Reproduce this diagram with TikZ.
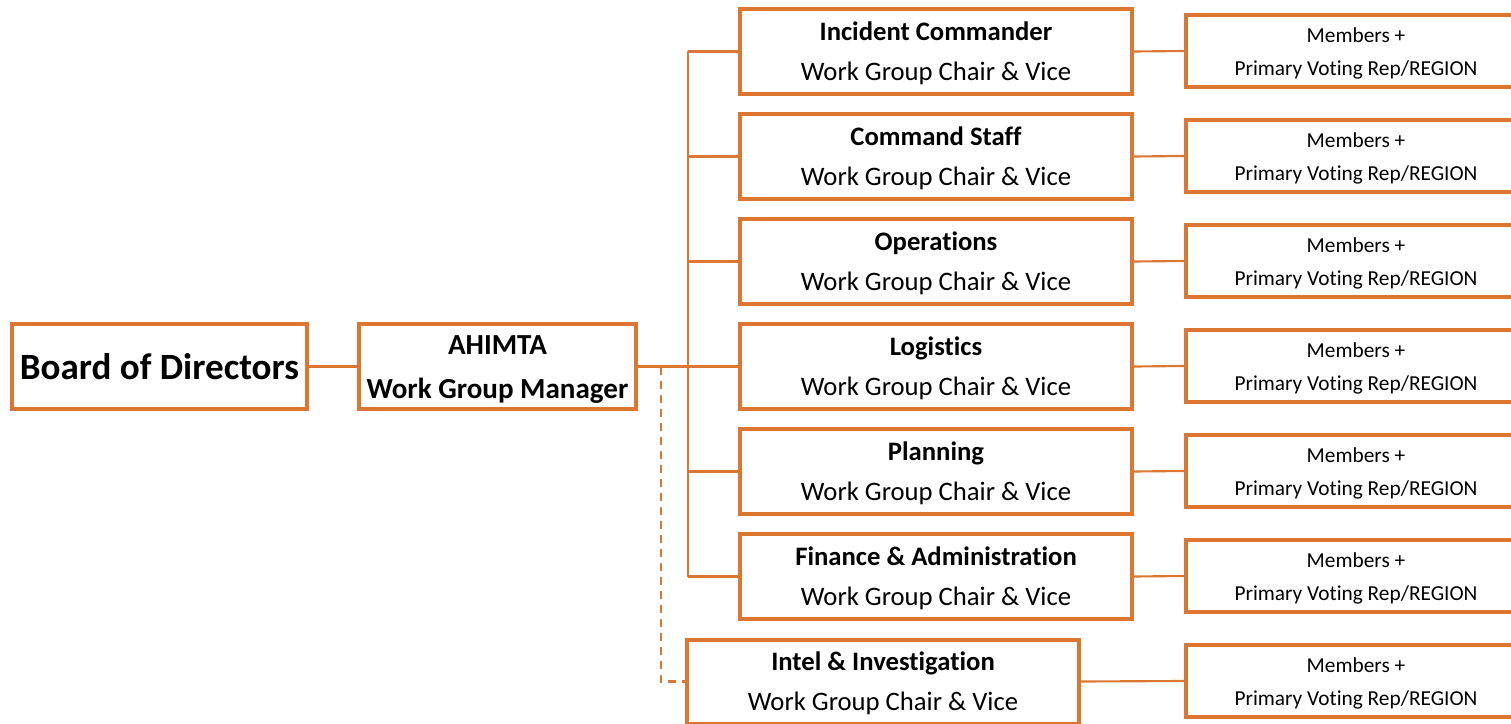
\documentclass[tikz,border=0pt]{standalone}
\usepackage{fontspec}
\setmainfont{Carlito}[Ligatures={NoCommon}]
\definecolor{org}{RGB}{221,118,48}
\begin{document}
\begin{tikzpicture}[x=0.75pt,y=-0.75pt,
  box/.style={draw=org, line width=3pt, fill=white, inner sep=0pt, align=center},
  midbox/.style={box, minimum width=0.75*392pt, minimum height=0.75*85pt,
    label={[font=\fontsize{20}{30}\selectfont, align=center, yshift=-1.5pt]center:#1}},
  membox/.style={box, minimum width=0.75*340pt, minimum height=0.75*72pt,
    label={[font=\fontsize{16}{24.75}\selectfont, align=center, yshift=-1.8pt]center:#1}},
  conn/.style={draw=org, line width=1.6pt},
  dconn/.style={conn, dash pattern=on 6pt off 4.5pt}]
\useasboundingbox (0,0) rectangle (1511,724);
\newcommand{\wg}[1]{\textbf{#1}\\Work Group Chair \& Vice}
\newcommand{\mem}{Members +\\Primary Voting Rep/REGION}
\node[box, minimum width=0.75*295pt, minimum height=0.75*85pt, font=\fontsize{27.8}{32}\bfseries] (bod) at (159.5,366.5) {Board of Directors};
\node[box, minimum width=0.75*277pt, minimum height=0.75*85pt,
  label={[font=\fontsize{21.8}{33}\bfseries, align=center, yshift=-2pt]center:AHIMTA\\Work Group Manager}] (ahm) at (497.5,366.5) {};
\node[midbox={\wg{Incident Commander}}] (ic) at (936,51.5) {};
\node[midbox={\wg{Command Staff}}] (cs) at (936,156.5) {};
\node[midbox={\wg{Operations}}] (op) at (936,261.5) {};
\node[midbox={\wg{Logistics}}] (lg) at (936,366.5) {};
\node[midbox={\wg{Planning}}] (pl) at (936,471.5) {};
\node[midbox={\wg{Finance \& Administration}}] (fa) at (936,576.5) {};
\node[midbox={\wg{Intel \& Investigation}}, minimum height=0.75*84pt] (ii) at (883,681.5) {};
\node[membox=\mem] (m1) at (1356,51) {};
\node[membox=\mem] (m2) at (1356,156) {};
\node[membox=\mem] (m3) at (1356,261) {};
\node[membox=\mem] (m4) at (1356,366) {};
\node[membox=\mem] (m5) at (1356,471) {};
\node[membox=\mem] (m6) at (1356,576) {};
\node[membox=\mem] (m7) at (1356,681) {};
\coordinate (tr) at (688,366.5);
\coordinate (dk) at (661,366.5);
\draw[conn] (bod.east) -- (ahm.west);
\draw[conn] (ahm.east) -- (tr);
\draw[conn] (tr |- ic.west) -- (tr |- fa.west);
\foreach \n in {ic,cs,op,lg,pl,fa} {\draw[conn] (tr |- \n.west) -- (\n.west);}
\draw[dconn] (dk) |- (ii.west);
\draw[conn] (ic.east) -- (m1.west);
\draw[conn] (cs.east) -- (m2.west);
\draw[conn] (op.east) -- (m3.west);
\draw[conn] (lg.east) -- (m4.west);
\draw[conn] (pl.east) -- (m5.west);
\draw[conn] (fa.east) -- (m6.west);
\draw[conn] (ii.east) -- (m7.west);
\end{tikzpicture}
\end{document}
